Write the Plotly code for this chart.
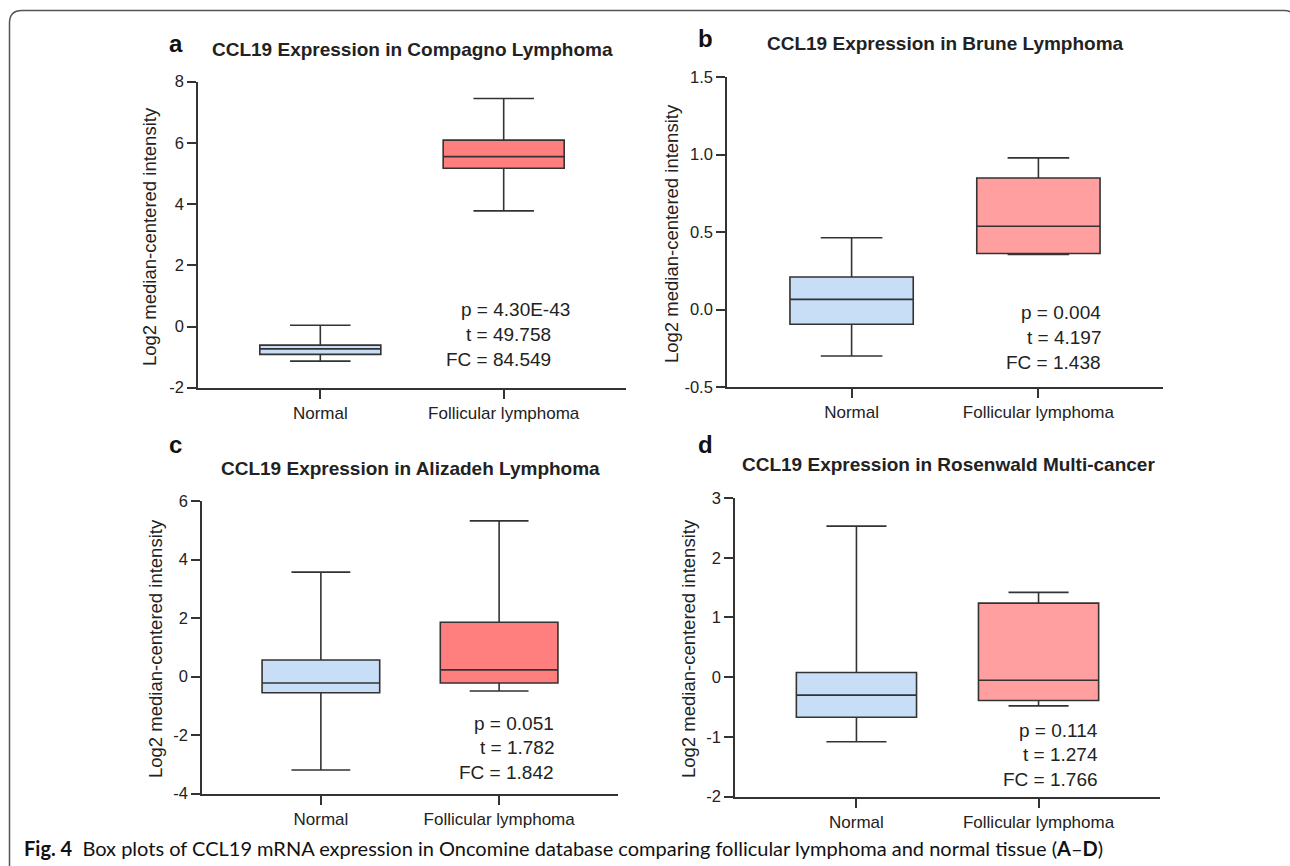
import plotly.graph_objects as go

W, H = 1290, 866

# ---------------- data ----------------
categories = ["Normal", "Follicular lymphoma"]

a_q1 = [-0.91, 5.17]
a_median = [-0.73, 5.55]
a_q3 = [-0.61, 6.09]
a_lower = [-1.13, 3.78]
a_upper = [0.04, 7.45]

b_q1 = [-0.095, 0.361]
b_median = [0.065, 0.537]
b_q3 = [0.21, 0.848]
b_lower = [-0.30, 0.355]
b_upper = [0.463, 0.978]

c_q1 = [-0.55, -0.22]
c_median = [-0.22, 0.23]
c_q3 = [0.57, 1.86]
c_lower = [-3.19, -0.49]
c_upper = [3.57, 5.32]

d_q1 = [-0.67, -0.39]
d_median = [-0.30, -0.05]
d_q3 = [0.08, 1.24]
d_lower = [-1.08, -0.48]
d_upper = [2.53, 1.42]

a_ticks = [-2, 0, 2, 4, 6, 8]
a_ticktext = ["-2", "0", "2", "4", "6", "8"]
b_ticks = [-0.5, 0.0, 0.5, 1.0, 1.5]
b_ticktext = ["-0.5", "0.0", "0.5", "1.0", "1.5"]
c_ticks = [-4, -2, 0, 2, 4, 6]
c_ticktext = ["-4", "-2", "0", "2", "4", "6"]
d_ticks = [-2, -1, 0, 1, 2, 3]
d_ticktext = ["-2", "-1", "0", "1", "2", "3"]

titles = ["CCL19 Expression in Compagno Lymphoma",
          "CCL19 Expression in Brune Lymphoma",
          "CCL19 Expression in Alizadeh Lymphoma",
          "CCL19 Expression in Rosenwald Multi-cancer"]
letters = ["a", "b", "c", "d"]
a_stats = ["p = 4.30E-43", "t = 49.758", "FC = 84.549"]
b_stats = ["p = 0.004", "t = 4.197", "FC = 1.438"]
c_stats = ["p = 0.051", "t = 1.782", "FC = 1.842"]
d_stats = ["p = 0.114", "t = 1.274", "FC = 1.766"]
ytitle = "Log2 median-centered intensity"
caption = ("<b>Fig. 4</b>  Box plots of CCL19 mRNA expression in Oncomine database "
           "comparing follicular lymphoma and normal tissue (<b>A</b>–<b>D</b>)")

# ---------------- layout helpers ----------------
def px(x):
    return x / W

def py(y):
    return 1 - y / H

FONT = "Liberation Sans, Arial, sans-serif"
TXT = "#222222"
LINE = "#333333"
BLUE = "#c8ddf6"
RED_A = "#ff7f7f"
RED_B = "#ff9f9f"

panels = [
    dict(data=(a_q1, a_median, a_q3, a_lower, a_upper), ticks=a_ticks, ticktext=a_ticktext,
         rng=[-2, 8], xd=(198, 626), yd=(81.7, 387.7), red=RED_A, stats=a_stats,
         title_xy=(412, 49), letter_xy=(176, 43), ylab_xy=(149, 237),
         stats_x=553, stats_y=(310, 334, 359), stats_shift=(19, 0, 0)),
    dict(data=(b_q1, b_median, b_q3, b_lower, b_upper), ticks=b_ticks, ticktext=b_ticktext,
         rng=[-0.5, 1.5], xd=(727, 1163), yd=(77, 387), red=RED_B, stats=b_stats,
         title_xy=(946, 44), letter_xy=(705, 38), ylab_xy=(671, 234),
         stats_x=1103, stats_y=(312, 337, 362), stats_shift=(0, 0, 0)),
    dict(data=(c_q1, c_median, c_q3, c_lower, c_upper), ticks=c_ticks, ticktext=c_ticktext,
         rng=[-4, 6], xd=(202, 618), yd=(501, 793.7), red=RED_A, stats=c_stats,
         title_xy=(410, 468), letter_xy=(175, 444), ylab_xy=(155, 649),
         stats_x=556, stats_y=(723, 747, 772), stats_shift=(0, 0, 0)),
    dict(data=(d_q1, d_median, d_q3, d_lower, d_upper), ticks=d_ticks, ticktext=d_ticktext,
         rng=[-2, 3], xd=(735, 1160), yd=(498, 796.7), red=RED_B, stats=d_stats,
         title_xy=(948, 464), letter_xy=(706, 444), ylab_xy=(688, 649),
         stats_x=1100, stats_y=(730, 754, 779), stats_shift=(0, 0, 0)),
]

fig = go.Figure()
annotations = []
layout_axes = {}

for i, p in enumerate(panels):
    n = "" if i == 0 else str(i + 1)
    xa, ya = "x" + n, "y" + n
    q1, med, q3, lo, hi = p["data"]
    fills = [BLUE, p["red"]]
    for j, cat in enumerate(categories):
        fig.add_trace(go.Box(
            x=[cat], q1=[q1[j]], median=[med[j]], q3=[q3[j]],
            lowerfence=[lo[j]], upperfence=[hi[j]],
            fillcolor=fills[j], line=dict(color=LINE, width=1.6),
            width=0.66, whiskerwidth=0.5, boxpoints=False,
            xaxis=xa, yaxis=ya, showlegend=False, hoverinfo="y"))

    layout_axes["xaxis" + n] = dict(
        domain=[px(p["xd"][0]), px(p["xd"][1])], anchor=ya, automargin=False,
        type="category", categoryorder="array", categoryarray=categories,
        range=[-0.667, 1.667], showline=True, linecolor=LINE, linewidth=1.6,
        ticks="outside", ticklen=9, tickwidth=1.6, tickcolor=LINE,
        showgrid=False, zeroline=False,
        tickfont=dict(family=FONT, size=17, color=TXT))
    layout_axes["yaxis" + n] = dict(
        domain=[py(p["yd"][1]), py(p["yd"][0])], anchor=xa, automargin=False,
        range=p["rng"], tickmode="array", tickvals=p["ticks"], ticktext=p["ticktext"],
        showline=True, linecolor=LINE, linewidth=1.6,
        ticks="outside", ticklen=9, tickwidth=1.6, tickcolor=LINE,
        showgrid=False, zeroline=False,
        tickfont=dict(family=FONT, size=16.5, color=TXT))

    annotations.append(dict(
        text="<b>" + titles[i] + "</b>", x=px(p["title_xy"][0]), y=py(p["title_xy"][1]),
        xref="paper", yref="paper", xanchor="center", yanchor="middle", showarrow=False,
        font=dict(family=FONT, size=19, color=TXT)))
    annotations.append(dict(
        text="<b>" + letters[i] + "</b>", x=px(p["letter_xy"][0]), y=py(p["letter_xy"][1]),
        xref="paper", yref="paper", xanchor="center", yanchor="middle", showarrow=False,
        font=dict(family=FONT, size=24, color="#111111")))
    annotations.append(dict(
        text=ytitle, x=px(p["ylab_xy"][0]), y=py(p["ylab_xy"][1]), textangle=-90,
        xref="paper", yref="paper", xanchor="center", yanchor="middle", showarrow=False,
        font=dict(family=FONT, size=18.5, color=TXT)))
    for k, s in enumerate(p["stats"]):
        annotations.append(dict(
            text=s, x=px(p["stats_x"]), y=py(p["stats_y"][k]), xshift=p["stats_shift"][k],
            xref="paper", yref="paper", xanchor="right", yanchor="middle", showarrow=False,
            font=dict(family=FONT, size=19, color=TXT)))

annotations.append(dict(
    text=caption, x=px(22), y=py(848), xref="paper", yref="paper",
    xanchor="left", yanchor="middle", showarrow=False,
    font=dict(family="Lato, Open Sans, sans-serif", size=20, color="#111111")))

# rounded border (partially off-page on right and bottom)
def P(x, y):
    return f"{px(x):.5f},{py(y):.5f}"

border_path = (f"M {P(9.5, 900)} L {P(9.5, 23)} Q {P(9.5, 10.5)} {P(22, 10.5)} "
               f"L {P(1284, 10.5)} Q {P(1296, 10.5)} {P(1296, 23)} L {P(1296, 900)}")

fig.update_layout(
    width=W, height=H, margin=dict(l=0, r=0, t=0, b=0, autoexpand=False),
    paper_bgcolor="white", plot_bgcolor="white", showlegend=False,
    annotations=annotations,
    shapes=[dict(type="path", path=border_path, xref="paper", yref="paper",
                 line=dict(color="#555555", width=1.5))],
    **layout_axes)

fig.write_html("out.html")
